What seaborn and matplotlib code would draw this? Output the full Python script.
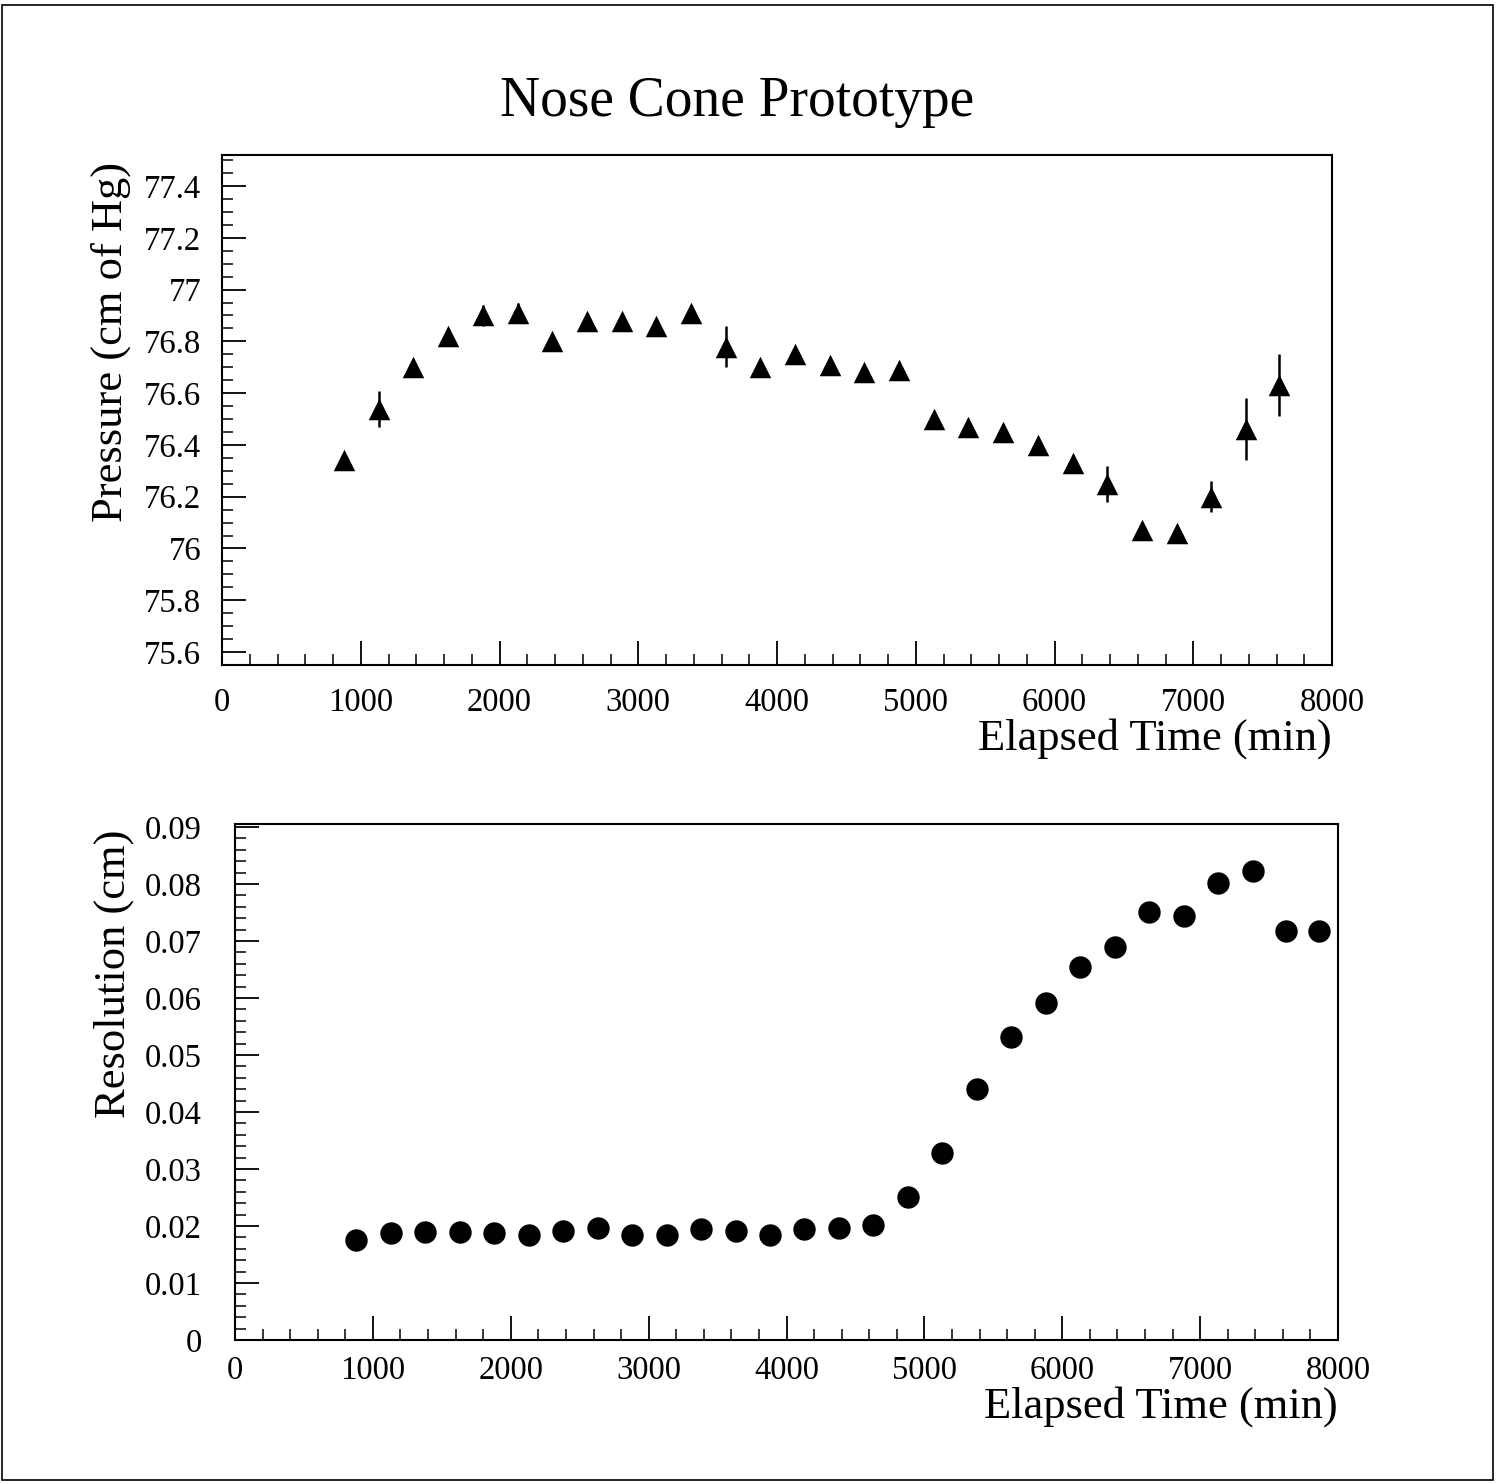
import matplotlib
matplotlib.use('Agg')
import matplotlib.pyplot as plt
import seaborn as sns
import pandas as pd
from matplotlib.ticker import MultipleLocator, FuncFormatter
from matplotlib.patches import Rectangle

# elapsed time of each measurement (min)
time_min = [880, 1130, 1380, 1630, 1880, 2130, 2380, 2630, 2880, 3130,
            3380, 3630, 3880, 4130, 4380, 4630, 4880, 5130, 5380, 5630,
            5880, 6130, 6380, 6630, 6880, 7130, 7380, 7620, 7860]

# top panel: pressure (cm of Hg) with errors, first 28 times
pressure = [76.34, 76.54, 76.70, 76.82, 76.90, 76.91, 76.80, 76.88, 76.88, 76.86,
            76.91, 76.78, 76.70, 76.75, 76.71, 76.68, 76.69, 76.50, 76.47, 76.45,
            76.40, 76.33, 76.25, 76.07, 76.06, 76.20, 76.46, 76.63]
pressure_err = [0.03, 0.07, 0.03, 0.03, 0.04, 0.04, 0.03, 0.03, 0.03, 0.03,
                0.03, 0.08, 0.03, 0.03, 0.03, 0.03, 0.03, 0.03, 0.03, 0.03,
                0.03, 0.03, 0.07, 0.03, 0.03, 0.06, 0.12, 0.12]

# bottom panel: resolution (cm)
resolution = [0.0175, 0.0188, 0.0190, 0.0190, 0.0188, 0.0185, 0.0192, 0.0197, 0.0185, 0.0185,
              0.0195, 0.0192, 0.0185, 0.0195, 0.0197, 0.0202, 0.0251, 0.0328, 0.0440, 0.0532,
              0.0592, 0.0654, 0.0689, 0.0750, 0.0743, 0.0801, 0.0822, 0.0717, 0.0717]

top_df = pd.DataFrame({'time': time_min[:len(pressure)], 'pressure': pressure, 'err': pressure_err})
bot_df = pd.DataFrame({'time': time_min, 'resolution': resolution})

sns.set_style('ticks')
plt.rcParams['font.family'] = ['Liberation Serif', 'DejaVu Serif']
plt.rcParams.update({
    'axes.linewidth': 1.5,
    'text.color': 'black',
    'axes.labelcolor': 'black',
    'axes.edgecolor': 'black',
    'xtick.color': 'black',
    'ytick.color': 'black',
})

fig = plt.figure(figsize=(14.99, 14.84), dpi=100)
ax1 = fig.add_axes([0.1481, 0.5519, 0.7405, 0.3437])
ax2 = fig.add_axes([0.1568, 0.0970, 0.7358, 0.3477])

fmt = FuncFormatter(lambda v, p: f"{round(v, 4):g}")

# pressure panel
ax1.errorbar(top_df['time'], top_df['pressure'], yerr=top_df['err'], fmt='none',
             ecolor='black', elinewidth=1.8, capsize=0, zorder=2)
sns.scatterplot(data=top_df, x='time', y='pressure', marker='^', s=240,
                color='black', edgecolor='black', linewidth=0, ax=ax1, zorder=3)
ax1.set_xlim(0, 8000)
ax1.set_ylim(75.55, 77.52)
ax1.yaxis.set_major_locator(MultipleLocator(0.2))
ax1.yaxis.set_minor_locator(MultipleLocator(0.05))
ax1.set_ylabel('Pressure (cm of Hg)', fontsize=32)
ax1.yaxis.set_label_coords(-0.082, 0.633)

# resolution panel
sns.scatterplot(data=bot_df, x='time', y='resolution', marker='o', s=260,
                color='black', edgecolor='black', linewidth=0, ax=ax2, zorder=3)
ax2.set_xlim(0, 8000)
ax2.set_ylim(0, 0.0905)
ax2.yaxis.set_major_locator(MultipleLocator(0.01))
ax2.yaxis.set_minor_locator(MultipleLocator(0.002))
ax2.set_ylabel('Resolution (cm)', fontsize=32)
ax2.yaxis.set_label_coords(-0.092, 0.709)

for ax in (ax1, ax2):
    ax.xaxis.set_major_locator(MultipleLocator(1000))
    ax.xaxis.set_minor_locator(MultipleLocator(200))
    ax.xaxis.set_major_formatter(fmt)
    ax.yaxis.set_major_formatter(fmt)
    ax.tick_params(which='major', direction='in', length=17, width=1.3, labelsize=23.5)
    ax.tick_params(which='minor', direction='in', length=8, width=1.1)
    ax.set_xlabel('Elapsed Time (min)', fontsize=32, loc='right', labelpad=0)
    for sp in ax.spines.values():
        sp.set_visible(True)
        sp.set_linewidth(1.5)

ax1.tick_params(axis='y', which='major', pad=15)
ax1.tick_params(axis='x', which='major', pad=16)
ax2.tick_params(axis='y', which='major', pad=24)
ax2.tick_params(axis='x', which='major', pad=11)

fig.text(0.4917, 0.931, 'Nose Cone Prototype', fontsize=40, ha='center', va='center')
fig.patches.append(Rectangle((0.0015, 0.003), 0.9945, 0.9935, transform=fig.transFigure,
                             fill=False, edgecolor='black', linewidth=1.2))

fig.savefig('out.png', dpi=100)
